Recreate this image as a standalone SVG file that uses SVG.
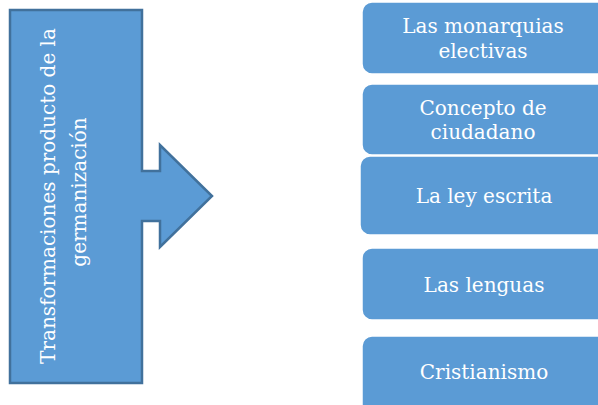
<svg xmlns="http://www.w3.org/2000/svg" width="598" height="405" viewBox="0 0 598 405">
<style>
.bg{fill:#ffffff}
.main{fill:#5B9BD5;stroke:#41719C;stroke-width:2.5}
.box{fill:#5B9BD5;stroke:#ffffff;stroke-width:1.5}
.t{font-family:"DejaVu Serif","Liberation Serif",serif;font-size:20px;fill:#ffffff;text-anchor:middle}
</style>
<rect class="bg" x="0" y="0" width="598" height="405"/>
<g id="main">
<path class="main" d="M10,10 H142 V171 H160 V145 L212,196 L160,247 V221 H142 V383 H10 Z"/>
<text class="t" transform="translate(55,196) rotate(-90)">Transformaciones producto de la</text>
<text class="t" transform="translate(86,192) rotate(-90)">germanización</text>
</g>
<g id="connectors"></g>
<g id="n1">
<rect class="box" x="362" y="2" width="250" height="72" rx="10"/>
<text class="t" x="483" y="33">Las monarquias</text>
<text class="t" x="483" y="58">electivas</text>
</g>
<g id="n2">
<rect class="box" x="362" y="84" width="250" height="71" rx="10"/>
<text class="t" x="483" y="115">Concepto de</text>
<text class="t" x="483" y="139">ciudadano</text>
</g>
<g id="n3">
<rect class="box" x="360" y="156" width="250" height="79" rx="10"/>
<text class="t" x="484" y="203">La ley escrita</text>
</g>
<g id="n4">
<rect class="box" x="362" y="248" width="250" height="72" rx="10"/>
<text class="t" x="484" y="292">Las lenguas</text>
</g>
<g id="n5">
<rect class="box" x="362" y="336" width="250" height="80" rx="10"/>
<text class="t" x="484" y="379">Cristianismo</text>
</g>
</svg>
